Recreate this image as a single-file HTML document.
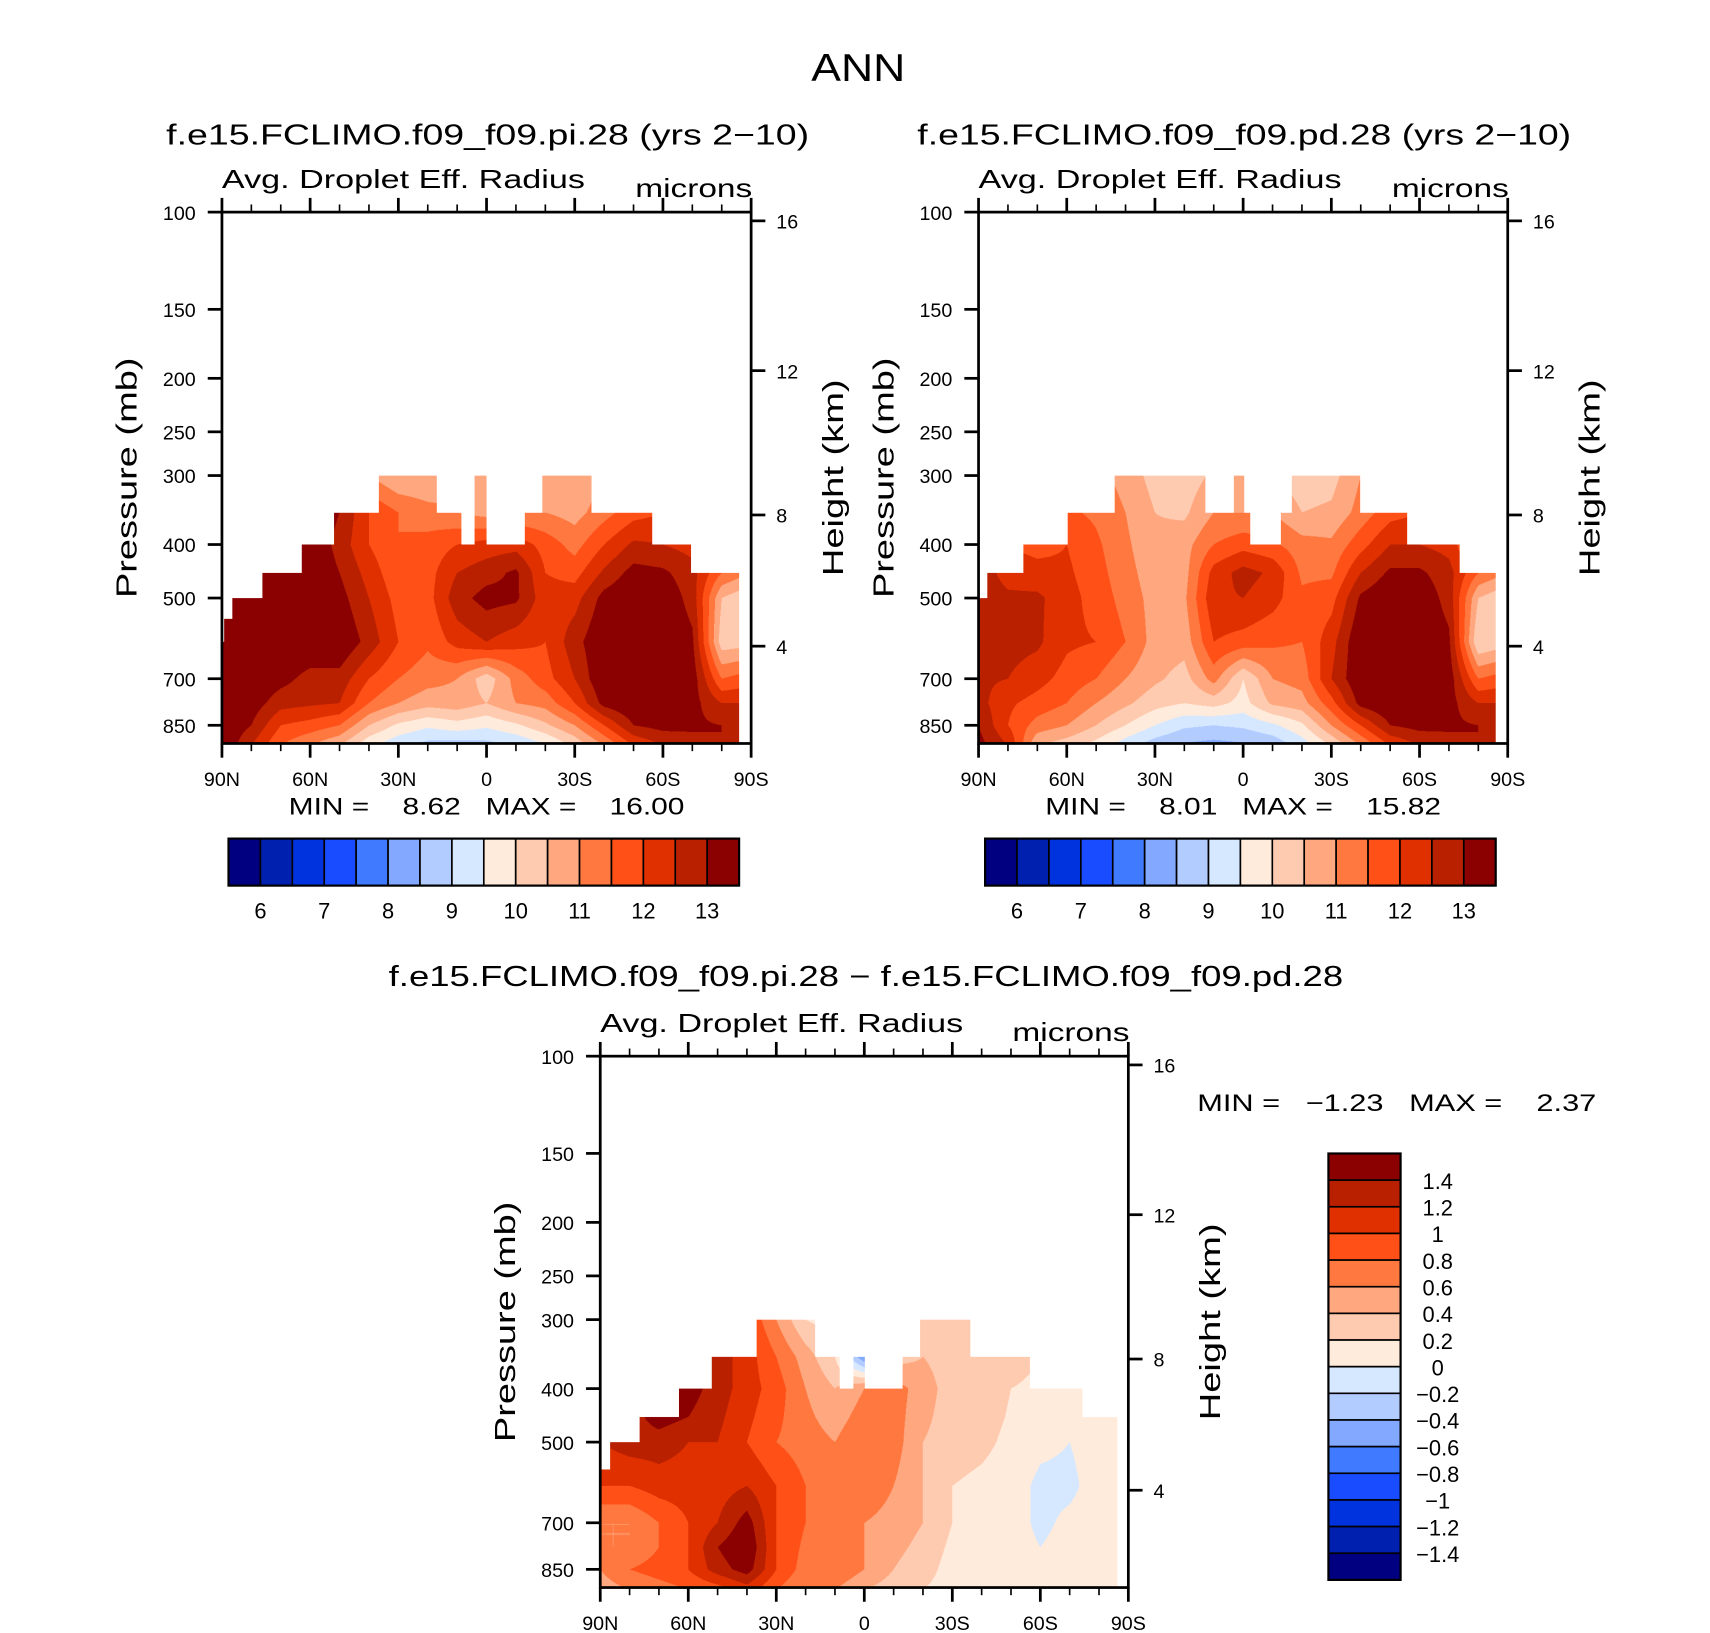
<!DOCTYPE html>
<html><head><meta charset="utf-8">
<style>
html,body{margin:0;padding:0;background:#fff;}
#outer{width:1710px;height:1633px;overflow:hidden;position:relative;background:#fff;}
#root{position:absolute;left:0;top:0;width:1564px;height:1494px;transform:scale(1.09335);transform-origin:0 0;}
#root canvas{position:absolute;}
#svg{position:absolute;left:0;top:0;}
text{font-family:"Liberation Sans",sans-serif;fill:#000;}
text.pre{white-space:pre;}
</style></head>
<body>
<div id="outer">
<div id="root">
<svg id="svg" width="1564" height="1494" viewBox="0 0 1564 1494" xmlns="http://www.w3.org/2000/svg"></svg>
</div></div>
<script>
// ---- data ----
const LATS=[90,80,70,60,50,40,30,20,10,0,-10,-20,-30,-40,-50,-60,-70,-80,-90];
const PRESS=[300,350,400,450,500,600,700,775,850,925];
const piValues=[
[13.5,13.5,13.5,13.5,13,11,10.5,10.5,10.8,10.5,10.8,10.8,10.5,11,11.5,12,12,11,11],
[13.5,13.5,13.5,13.5,13,12,11.5,11.2,11,10.8,11,11,10.8,11.3,11.8,12,12,11,11],
[13.5,13.5,13.5,13.5,12.8,12,11.5,11.7,12,12.2,12.3,11.8,11.3,12,12.6,12.5,12.3,11.2,11],
[13.5,13.5,13.5,13.5,13,12.3,11.6,11.8,12.5,12.8,13.1,12,11.8,12.6,13.2,13.1,12.7,11.5,11],
[13.5,13.5,13.5,13.5,13.2,12.5,11.8,11.8,12.8,13.2,13.1,12.2,12.3,13.2,13.5,13.4,12.8,10.5,10],
[13.5,13.5,13.5,13.5,13.5,12.8,12,11.6,12.2,12.5,12.2,12,12.8,13.5,13.5,13.5,13.1,10.2,10.3],
[13.5,13.5,13.2,12.8,12.8,12,11.5,11.2,11,10.2,11.2,11.8,12.5,13.5,13.5,13.5,13.3,11.5,11.8],
[13.5,13.3,12.7,12.6,12.5,11.5,11,10.7,10.8,10.5,11,11.2,12,13.2,13.5,13.5,13.2,12.5,12.5],
[13.5,13,12,11.8,11.5,10.5,9.9,9.6,9.8,9.6,9.9,10.4,11,12,13,13.2,13.1,13,12.8],
[13.5,12.5,11.5,11,10.5,9.6,9.1,8.8,8.7,8.8,9.0,9.4,10.1,11,12,12.5,12.8,13,13]];
const pdValues=[
[12.8,12,11.8,11.6,11.2,10.8,10.3,10.2,10.6,10.8,10.5,10.2,10.3,11,11.5,11.5,11.5,11,11],
[12.8,12,11.8,11.6,11.4,11,10.5,10.4,11,11,11,10.5,10.6,11.2,11.8,12,12,11,11],
[12.8,12,11.8,12,11.6,11.1,10.6,10.8,11.5,11.8,11.6,11.2,11.1,11.8,12.5,12.5,12.3,11.2,11],
[12.8,12.3,12.2,12.1,11.7,11.2,10.7,10.8,12.2,12.7,12.4,11.4,11.4,12.5,13.1,13.1,12.7,11.5,11],
[12.8,12.6,12.6,12.2,11.8,11.3,10.8,10.9,12.4,12.5,12.2,11.6,11.8,13.1,13.5,13.4,12.8,10.5,10],
[12.8,12.7,12.6,12.1,12,11.5,10.8,10.7,12,11.8,11.6,11.5,12.3,13.5,13.5,13.5,13.1,10,10.3],
[12.6,12.5,12.2,11.8,11.5,11,10.6,10.3,11.2,10,11,11.2,12.5,13.5,13.5,13.5,13.3,11.5,11.8],
[12.7,12.1,11.8,11.5,11,10.6,10.2,10,10.2,9.8,10.6,10.8,11.8,13.2,13.5,13.5,13.2,12.5,12.5],
[13,12,11.3,11,10.5,10,9.5,9.1,9.0,9.1,9.4,9.9,11,12,13,13.2,13.1,13,12.8],
[13.2,12.5,10.5,10.2,9.8,9.2,8.7,8.4,8.3,8.4,8.6,9.2,10,11,12,12.5,12.8,13,13]];
const diffValues=[
[1.2,1.3,1.5,1.4,1.3,1.0,0.6,0.2,0.1,-0.6,0.3,0.3,0.3,0.3,0.3,0.2,0.1,0.05,0.1],
[1.2,1.3,1.5,1.4,1.3,1.1,0.8,0.5,0.2,-0.6,0.3,0.4,0.3,0.3,0.3,0.2,0.1,0.05,0.1],
[1.2,1.3,1.5,1.5,1.3,1.1,0.9,0.6,0.4,0.6,0.7,0.5,0.3,0.3,0.2,0.15,0.1,0.05,0.1],
[1.2,1.3,1.5,1.4,1.25,1.05,0.85,0.65,0.5,0.7,0.7,0.45,0.3,0.28,0.18,0.1,0.05,0.05,0.1],
[1.2,1.3,1.3,1.2,1.2,1.0,0.8,0.7,0.6,0.8,0.7,0.4,0.3,0.25,0.15,0.05,0.0,0.1,0.1],
[1.0,1.0,1.1,1.1,1.1,1.2,1.0,0.8,0.7,0.8,0.6,0.4,0.2,0.15,0.1,-0.05,-0.05,0.1,0.1],
[0.6,0.6,0.8,1.0,1.2,1.5,1.0,0.8,0.8,0.6,0.5,0.4,0.2,0.1,0.1,-0.05,0.05,0.1,0.1],
[0.6,0.6,0.8,1.0,1.4,1.6,1.0,0.75,0.8,0.6,0.45,0.35,0.15,0.1,0.1,0.0,0.08,0.1,0.1],
[0.6,0.8,0.9,1.0,1.3,1.5,1.0,0.7,0.8,0.6,0.4,0.3,0.1,0.1,0.1,0.05,0.1,0.1,0.1],
[0.5,0.6,0.7,0.8,0.9,1.1,0.8,0.6,0.6,0.4,0.3,0.2,0.1,0.05,0.1,0.1,0.1,0.1,0.1]];
// data-top masks: [latFrom, latTo, top pressure]
const piMask=[[90,89.3,600],[89.3,86.5,545],[86.5,76.2,500],[76.2,62.9,450],[62.9,51.8,400],[51.8,36.6,350],[36.6,17,300],[17,8.5,350],[8.5,4,400],[4,0,300],[0,-13.1,400],[-13.1,-19,350],[-19,-35.7,300],[-35.7,-56.4,350],[-56.4,-69.5,400],[-69.5,-85.9,450]];
const pdMask=[[90,87.1,500],[87.1,74.7,450],[74.7,59.6,400],[59.6,43.7,350],[43.7,12.9,300],[12.9,3.2,350],[3.2,-0.4,300],[-0.4,-2.5,350],[-2.5,-12.9,400],[-12.9,-16.6,350],[-16.6,-39.8,300],[-39.8,-55.8,350],[-55.8,-73.6,400],[-73.6,-85.9,450]];
const diffMask=[[90,86.7,560],[86.7,76.5,500],[76.5,63.1,450],[63.1,51.9,400],[51.9,36.7,350],[36.7,16.8,300],[16.8,8.3,350],[8.3,3.8,400],[3.8,-0.2,350],[-0.2,-13.1,400],[-13.1,-19,350],[-19,-36.1,300],[-36.1,-56.5,350],[-56.5,-74.4,400],[-74.4,-86.3,450]];
const absLevels=[6,6.5,7,7.5,8,8.5,9,9.5,10,10.5,11,11.5,12,12.5,13];
const absLabels=["6","7","8","9","10","11","12","13"];
const diffLevels=[-1.4,-1.2,-1,-0.8,-0.6,-0.4,-0.2,0,0.2,0.4,0.6,0.8,1,1.2,1.4];
const diffLabels=["\u22121.4","\u22121.2","\u22121","\u22120.8","\u22120.6","\u22120.4","\u22120.2","0","0.2","0.4","0.6","0.8","1","1.2","1.4"];
const COLORS=["#000080","#0020b0","#0033dd","#1a4cff","#3f7aff","#82a8ff","#b3ccff","#d6e8ff","#ffebdc","#ffcbb0","#ffa880","#ff7840","#ff5018","#e03000","#b82000","#8b0000"];
const pTickVals=[100,150,200,250,300,400,500,700,850];
const kmTicks=[16,12,8,4];
const kmTickY=[8,145,277,397];
const latTickLabels=["90N","60N","30N","0","30S","60S","90S"];

// ---- helpers ----
const svg=document.getElementById('svg');
const NS="http://www.w3.org/2000/svg";
function mk(tag,attrs,parent){const e=document.createElementNS(NS,tag);for(const k in attrs)e.setAttribute(k,attrs[k]);(parent||svg).appendChild(e);return e;}
function txt(s,x,y,size,anchor,extra){const t=mk('text',Object.assign({x:x,y:y,'font-size':size,'text-anchor':anchor||'start'},extra||{}));t.textContent=s;return t;}
const DEC=505;
function yOfP(p,y0){return y0+DEC*Math.log10(p/100);}
function hexToRgb(h){return [parseInt(h.substr(1,2),16),parseInt(h.substr(3,2),16),parseInt(h.substr(5,2),16)];}
const RGB=COLORS.map(hexToRgb);
function levelIndex(v,levels){let i=0;while(i<levels.length&&v>=levels[i])i++;return i;}
function sample(vals,lat,p){
  let fi=(90-lat)/10; fi=Math.max(0,Math.min(18,fi)); let i0=Math.min(17,Math.floor(fi)); const tx=fi-i0;
  const lp=Math.log(Math.max(300,Math.min(925,p)));
  let j0=0; while(j0<PRESS.length-2 && lp>Math.log(PRESS[j0+1])) j0++;
  const a=Math.log(PRESS[j0]),b=Math.log(PRESS[j0+1]); const ty=Math.max(0,Math.min(1,(lp-a)/(b-a)));
  const v00=vals[j0][i0],v01=vals[j0][i0+1],v10=vals[j0+1][i0],v11=vals[j0+1][i0+1];
  return (v00*(1-tx)+v01*tx)*(1-ty)+(v10*(1-tx)+v11*tx)*ty;
}
function topP(mask,lat){for(const s of mask){if(lat<=s[0]&&lat>=s[1])return s[2];}return 99999;}

function drawField(name,x0,y0,w,h,vals,mask,levels){
  const S=2; const c=document.createElement('canvas');
  c.width=w*S;c.height=h*S;c.style.left=x0+'px';c.style.top=y0+'px';c.style.width=w+'px';c.style.height=h+'px';
  
  
  document.getElementById('root').insertBefore(c,svg);
  const ctx=c.getContext('2d');const img=ctx.createImageData(w*S,h*S);const d=img.data;
  for(let py=0;py<h*S;py++){
    const p=100*Math.pow(10,((py+0.5)/S)/DEC);
    for(let px=0;px<w*S;px++){
      const lat=90-180*((px+0.5)/S)/w;
      if(p<topP(mask,lat))continue;
      const v=sample(vals,lat,p);const col=RGB[levelIndex(v,levels)];
      const k=(py*w*S+px)*4;d[k]=col[0];d[k+1]=col[1];d[k+2]=col[2];d[k+3]=255;
    }
  }
  ctx.putImageData(img,0,0);
}

function drawAxes(prefix,x0,y0,w,h){
  const g=mk('g',{});
  
  
  mk('rect',{x:x0,y:y0,width:w,height:h,fill:'none',stroke:'#000','stroke-width':2.5},g);
  for(let lat=90;lat>=-90;lat-=10){
    const x=x0+(90-lat)/180*w;const major=(lat%30===0);const L=major?13:7;
    mk('line',{x1:x,y1:y0,x2:x,y2:y0-L,stroke:'#000','stroke-width':major?2.5:1.5},g);
    mk('line',{x1:x,y1:y0+h,x2:x,y2:y0+h+L,stroke:'#000','stroke-width':major?2.5:1.5},g);
  }
  latTickLabels.forEach((s,i)=>{const x=x0+i*w/6;const t=txt(s,x,y0+h+39,18,'middle');
    
    });
  pTickVals.forEach(p=>{const y=yOfP(p,y0);
    mk('line',{x1:x0,y1:y,x2:x0-13,y2:y,stroke:'#000','stroke-width':2.5},g);
    const t=txt(String(p),x0-24,y+7,18,'end');
    
    });
  kmTicks.forEach((k,i)=>{const y=y0+kmTickY[i];
    mk('line',{x1:x0+w,y1:y,x2:x0+w+13,y2:y,stroke:'#000','stroke-width':2.5},g);
    const t=txt(String(k),x0+w+23,y+7,18,'start');
    
    });
  let t=txt('Pressure (mb)',0,0,26,'middle',{transform:'translate('+(x0-78)+','+(y0+243)+') rotate(-90)',textLength:220,lengthAdjust:'spacingAndGlyphs'});
  
  
  t=txt('Height (km)',0,0,26,'middle',{transform:'translate('+(x0+w+84)+','+(y0+243)+') rotate(-90)',textLength:180,lengthAdjust:'spacingAndGlyphs'});
  
  
  t=txt('Avg. Droplet Eff. Radius',x0,y0-22,24,'start',{textLength:332,lengthAdjust:'spacingAndGlyphs'});
  
  
  t=txt('microns',x0+w+1,y0-14,24,'end',{textLength:107,lengthAdjust:'spacingAndGlyphs'});
  
  
}

function hColorbar(prefix,x0,y0,w,h){
  const bw=w/16;
  for(let i=0;i<16;i++){const r=mk('rect',{x:x0+i*bw,y:y0,width:bw,height:h,fill:COLORS[i],stroke:'#000','stroke-width':1.5});
    
    }
  mk('rect',{x:x0,y:y0,width:w,height:h,fill:'none',stroke:'#000','stroke-width':2});
  absLabels.forEach((s,i)=>{const x=x0+(1+2*i)*bw;const t=txt(s,x,y0+h+30,20,'middle');
    
    });
}
function vColorbar(prefix,x0,y0,w,h){
  const bh=h/16;
  for(let i=0;i<16;i++){const r=mk('rect',{x:x0,y:y0+i*bh,width:w,height:bh,fill:COLORS[15-i],stroke:'#000','stroke-width':1.5});
    
    }
  mk('rect',{x:x0,y:y0,width:w,height:h,fill:'none',stroke:'#000','stroke-width':2});
  for(let k=0;k<15;k++){const lab=diffLabels[14-k];const y=y0+(k+1)*bh;const t=txt(lab,x0+w+34,y+8,20,'middle');
    
    }
}

// ---- layout ----
let t=txt('ANN',785,74,36,'middle',{textLength:86,lengthAdjust:'spacingAndGlyphs'});



drawField('pi-contour-field',203,194,484,486,piValues,piMask,absLevels);
t=txt('f.e15.FCLIMO.f09_f09.pi.28 (yrs 2\u221210)',446,132,26,'middle',{textLength:588,lengthAdjust:'spacingAndGlyphs'});


drawAxes('pi',203,194,484,486);
t=txt('MIN =    8.62   MAX =    16.00',264,745,22,'start',{textLength:362,lengthAdjust:'spacingAndGlyphs',class:'pre'});


hColorbar('pi',209,767,467,43);

drawField('pd-contour-field',895,194,484,486,pdValues,pdMask,absLevels);
t=txt('f.e15.FCLIMO.f09_f09.pd.28 (yrs 2\u221210)',1138,132,26,'middle',{textLength:598,lengthAdjust:'spacingAndGlyphs'});


drawAxes('pd',895,194,484,486);
t=txt('MIN =    8.01   MAX =    15.82',956,745,22,'start',{textLength:362,lengthAdjust:'spacingAndGlyphs',class:'pre'});


hColorbar('pd',901,767,467,43);

drawField('diff-contour-field',549,966,483,486,diffValues,diffMask,diffLevels);
t=txt('f.e15.FCLIMO.f09_f09.pi.28 \u2212 f.e15.FCLIMO.f09_f09.pd.28',792,902,26,'middle',{textLength:873,lengthAdjust:'spacingAndGlyphs'});


drawAxes('diff',549,966,483,486);
t=txt('MIN =   \u22121.23   MAX =    2.37',1095,1016,22,'start',{textLength:365,lengthAdjust:'spacingAndGlyphs',class:'pre'});


vColorbar('diff',1215,1055,66,390);
</script>
</body></html>
